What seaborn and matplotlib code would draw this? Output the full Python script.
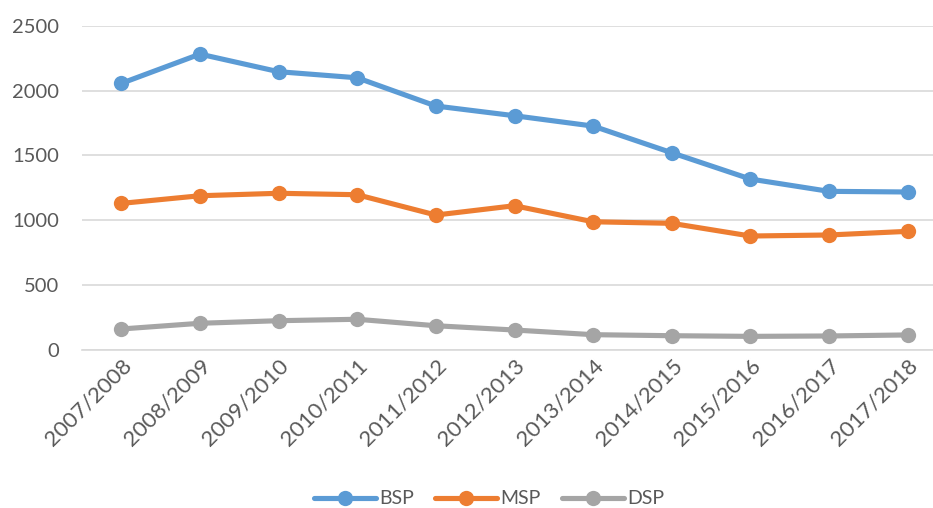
import matplotlib
matplotlib.use("Agg")
import matplotlib.pyplot as plt
import seaborn as sns
import pandas as pd

years = ["2007/2008", "2008/2009", "2009/2010", "2010/2011", "2011/2012", "2012/2013",
         "2013/2014", "2014/2015", "2015/2016", "2016/2017", "2017/2018"]
bsp = [2057, 2283, 2147, 2100, 1882, 1807, 1727, 1521, 1318, 1223, 1218]
msp = [1130, 1189, 1208, 1197, 1040, 1112, 988, 976, 878, 886, 914]
dsp = [160, 204, 224, 235, 185, 152, 116, 108, 103, 106, 114]
series_names = ["BSP", "MSP", "DSP"]
colors = ["#5B9BD5", "#ED7D31", "#A5A5A5"]
yticks = [0, 500, 1000, 1500, 2000, 2500]

rows = []
for name, vals in zip(series_names, [bsp, msp, dsp]):
    for y, v in zip(years, vals):
        rows.append({"year": y, "value": v, "series": name})
df = pd.DataFrame(rows)

sns.set_theme(style="white")
plt.rcParams["font.family"] = ["Lato", "DejaVu Sans"]

fig = plt.figure(figsize=(9.33, 5.08), dpi=100)
ax = fig.add_axes([82 / 933, (508 - 349.7) / 508, (947 - 82) / 933, (349.7 - 26) / 508])

sns.lineplot(data=df, x="year", y="value", hue="series", hue_order=series_names,
             palette=colors, marker="o", markersize=11, markeredgewidth=0,
             linewidth=3.7, ax=ax, legend=True, sort=False)

ax.set_ylim(0, 2500)
ax.set_xlim(-0.5, 10.5)
ax.set_yticks(yticks)
ax.yaxis.grid(True, color="#D9D9D9", linewidth=1.2)
ax.xaxis.grid(False)
for s in ax.spines.values():
    s.set_visible(False)
ax.spines["bottom"].set_visible(True)
ax.spines["bottom"].set_color("#D9D9D9")
ax.spines["bottom"].set_linewidth(1.2)
ax.set_xlabel("")
ax.set_ylabel("")
ax.tick_params(axis="both", length=0, labelcolor="#595959")
ax.tick_params(axis="y", pad=16.5, labelsize=14.5)
ax.tick_params(axis="x", pad=4, labelsize=16)
for lab in ax.get_xticklabels():
    lab.set_rotation(45)
    lab.set_ha("right")
    lab.set_rotation_mode("anchor")

handles, labels = ax.get_legend_handles_labels()
ax.get_legend().remove()
fig.legend(handles, labels, loc="center", bbox_to_anchor=(489 / 933, 1 - 499 / 508),
           ncol=3, frameon=False, fontsize=14, handlelength=3.2, columnspacing=1.1,
           handletextpad=0.15, labelcolor="#595959")

fig.savefig("out.png", dpi=100)
